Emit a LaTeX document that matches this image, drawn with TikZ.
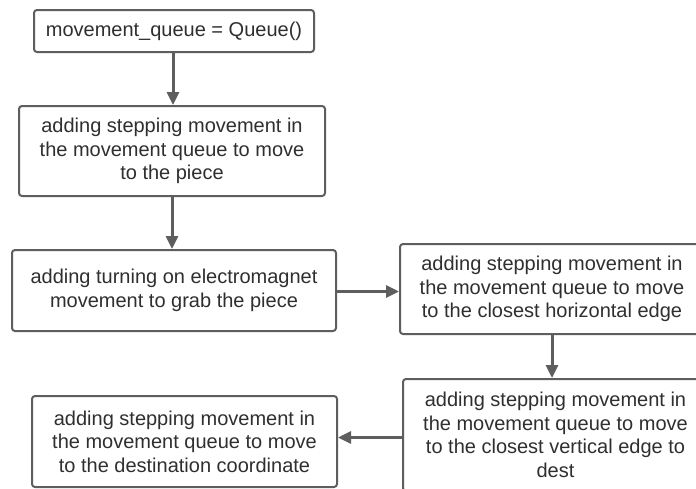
\documentclass[tikz,border=0pt]{standalone}
\usepackage{fontspec}
\setmainfont{Liberation Sans}
\usetikzlibrary{positioning,arrows.meta}
\definecolor{linegray}{HTML}{5E5E5E}
\definecolor{textgray}{HTML}{2F2F2F}

\begin{document}
\begin{tikzpicture}[x=1pt,y=1pt]
		\tikzstyle{box}=[draw=linegray, line width=2pt, rounded corners=3pt, inner sep=0pt, align=center,
			text=textgray, font=\fontsize{20}{23.5}\selectfont]
		\tikzstyle{arr}=[draw=linegray, line width=3pt, -{Triangle[length=13pt,width=12pt]}]
		\clip (0,0) rectangle (696,-488);
		\fill [white] (0,0) rectangle (696,-488);
		\node [box, minimum width=280, minimum height=42] (queue) at (174,-31) {movement\_queue = Queue()};
		\node [box, minimum width=306, minimum height=90] (piece) at (172,-151)
			{adding stepping movement in\\the movement queue to move\\to the piece};
		\node [box, minimum width=324, minimum height=81] (magnet) at (174,-290.5)
			{adding turning on electromagnet\\movement to grab the piece};
		\node [box, minimum width=304, minimum height=90] (horiz) at (552,-289)
			{adding stepping movement in\\the movement queue to move\\to the closest horizontal edge};
		\node [box, minimum width=305, minimum height=112] (vert) at (555.5,-435)
			{adding stepping movement in\\the movement queue to move\\to the closest vertical edge to\\dest};
		\node [box, minimum width=305, minimum height=91] (dest) at (184.5,-441.5)
			{adding stepping movement in\\the movement queue to move\\to the destination coordinate};
		\draw [arr] (queue.south -| 173,0) -- (piece.north -| 173,0);
		\draw [arr] (piece.south -| 172,0) -- (magnet.north -| 172,0);
		\draw [arr] ([yshift=-1pt]magnet.east) -- ([yshift=-1pt]magnet.east -| horiz.west);
		\draw [arr] (horiz.south) -- (horiz.south |- vert.north);
		\draw [arr] ([yshift=-2.5pt]vert.west) -- ([yshift=-2.5pt]vert.west -| dest.east);
\end{tikzpicture}
\end{document}
